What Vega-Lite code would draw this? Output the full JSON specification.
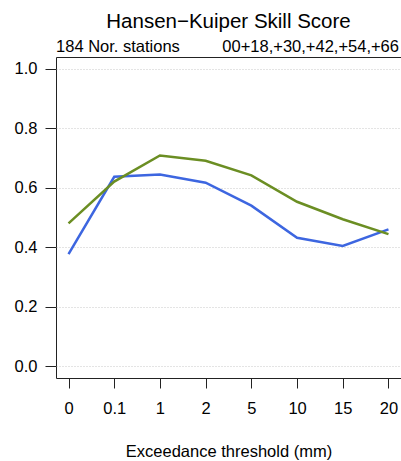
{
  "$schema": "https://vega.github.io/schema/vega-lite/v6.json",
  "autosize": {"type": "none"},
  "padding": {"left": 56, "top": 57, "right": 0, "bottom": 83},
  "width": 345,
  "height": 321,
  "background": "white",
  "config": {
    "font": "Liberation Sans",
    "view": {"stroke": "#222", "strokeWidth": 1},
    "axis": {
      "labelFont": "Liberation Sans",
      "titleFont": "Liberation Sans",
      "labelColor": "#000",
      "titleColor": "#000",
      "tickColor": "#222",
      "labelFontSize": 16.5,
      "titleFontSize": 16.5,
      "titleFontWeight": "normal",
      "domain": false
    }
  },
  "title": {
    "text": "Hansen−Kuiper Skill Score",
    "font": "Liberation Sans",
    "fontSize": 20.5,
    "fontWeight": "normal",
    "color": "#000",
    "anchor": "middle",
    "frame": "group",
    "baseline": "alphabetic",
    "offset": -9
  },
  "layer": [
    {
      "data": {
        "values": [
          {"threshold": "0", "series": "Series 1", "value": 0.377},
          {"threshold": "0.1", "series": "Series 1", "value": 0.637},
          {"threshold": "1", "series": "Series 1", "value": 0.645},
          {"threshold": "2", "series": "Series 1", "value": 0.617},
          {"threshold": "5", "series": "Series 1", "value": 0.540},
          {"threshold": "10", "series": "Series 1", "value": 0.432},
          {"threshold": "15", "series": "Series 1", "value": 0.404},
          {"threshold": "20", "series": "Series 1", "value": 0.460},
          {"threshold": "0", "series": "Series 2", "value": 0.480},
          {"threshold": "0.1", "series": "Series 2", "value": 0.621},
          {"threshold": "1", "series": "Series 2", "value": 0.709},
          {"threshold": "2", "series": "Series 2", "value": 0.691},
          {"threshold": "5", "series": "Series 2", "value": 0.642},
          {"threshold": "10", "series": "Series 2", "value": 0.553},
          {"threshold": "15", "series": "Series 2", "value": 0.494},
          {"threshold": "20", "series": "Series 2", "value": 0.444}
        ]
      },
      "mark": {"type": "line", "strokeWidth": 2.5, "strokeJoin": "miter", "strokeCap": "butt"},
      "encoding": {
        "x": {
          "field": "threshold",
          "type": "ordinal",
          "sort": ["0", "0.1", "1", "2", "5", "10", "15", "20"],
          "scale": {"type": "point", "padding": 0.274},
          "axis": {
            "title": "Exceedance threshold (mm)",
            "labelAngle": 0,
            "tickSize": 10,
            "labelPadding": 12,
            "titlePadding": 27,
            "grid": false
          }
        },
        "y": {
          "field": "value",
          "type": "quantitative",
          "scale": {"domain": [-0.0404, 1.0404], "nice": false, "zero": false},
          "axis": {
            "title": null,
            "values": [0, 0.2, 0.4, 0.6, 0.8, 1.0],
            "format": ".1f",
            "tickSize": 11,
            "labelPadding": 8,
            "grid": true,
            "gridColor": "#c8c8c8",
            "gridDash": [1, 2],
            "gridWidth": 1
          }
        },
        "color": {
          "field": "series",
          "type": "nominal",
          "scale": {"domain": ["Series 1", "Series 2"], "range": ["#3d66e0", "#6b8e23"]},
          "legend": null
        }
      }
    },
    {
      "data": {"values": [{"threshold": "0", "y": 1.0404, "label": "184 Nor. stations"}]},
      "mark": {"type": "text", "align": "left", "baseline": "alphabetic", "dx": -12.5, "dy": -5, "fontSize": 16.5, "font": "Liberation Sans", "color": "#000"},
      "encoding": {
        "x": {"field": "threshold", "type": "ordinal", "sort": ["0", "0.1", "1", "2", "5", "10", "15", "20"]},
        "y": {"field": "y", "type": "quantitative"},
        "text": {"field": "label"}
      }
    },
    {
      "data": {"values": [{"threshold": "20", "y": 1.0404, "label": "00+18,+30,+42,+54,+66"}]},
      "mark": {"type": "text", "align": "right", "baseline": "alphabetic", "dx": 10.5, "dy": -5, "fontSize": 16.5, "font": "Liberation Sans", "color": "#000"},
      "encoding": {
        "x": {"field": "threshold", "type": "ordinal", "sort": ["0", "0.1", "1", "2", "5", "10", "15", "20"]},
        "y": {"field": "y", "type": "quantitative"},
        "text": {"field": "label"}
      }
    }
  ]
}
